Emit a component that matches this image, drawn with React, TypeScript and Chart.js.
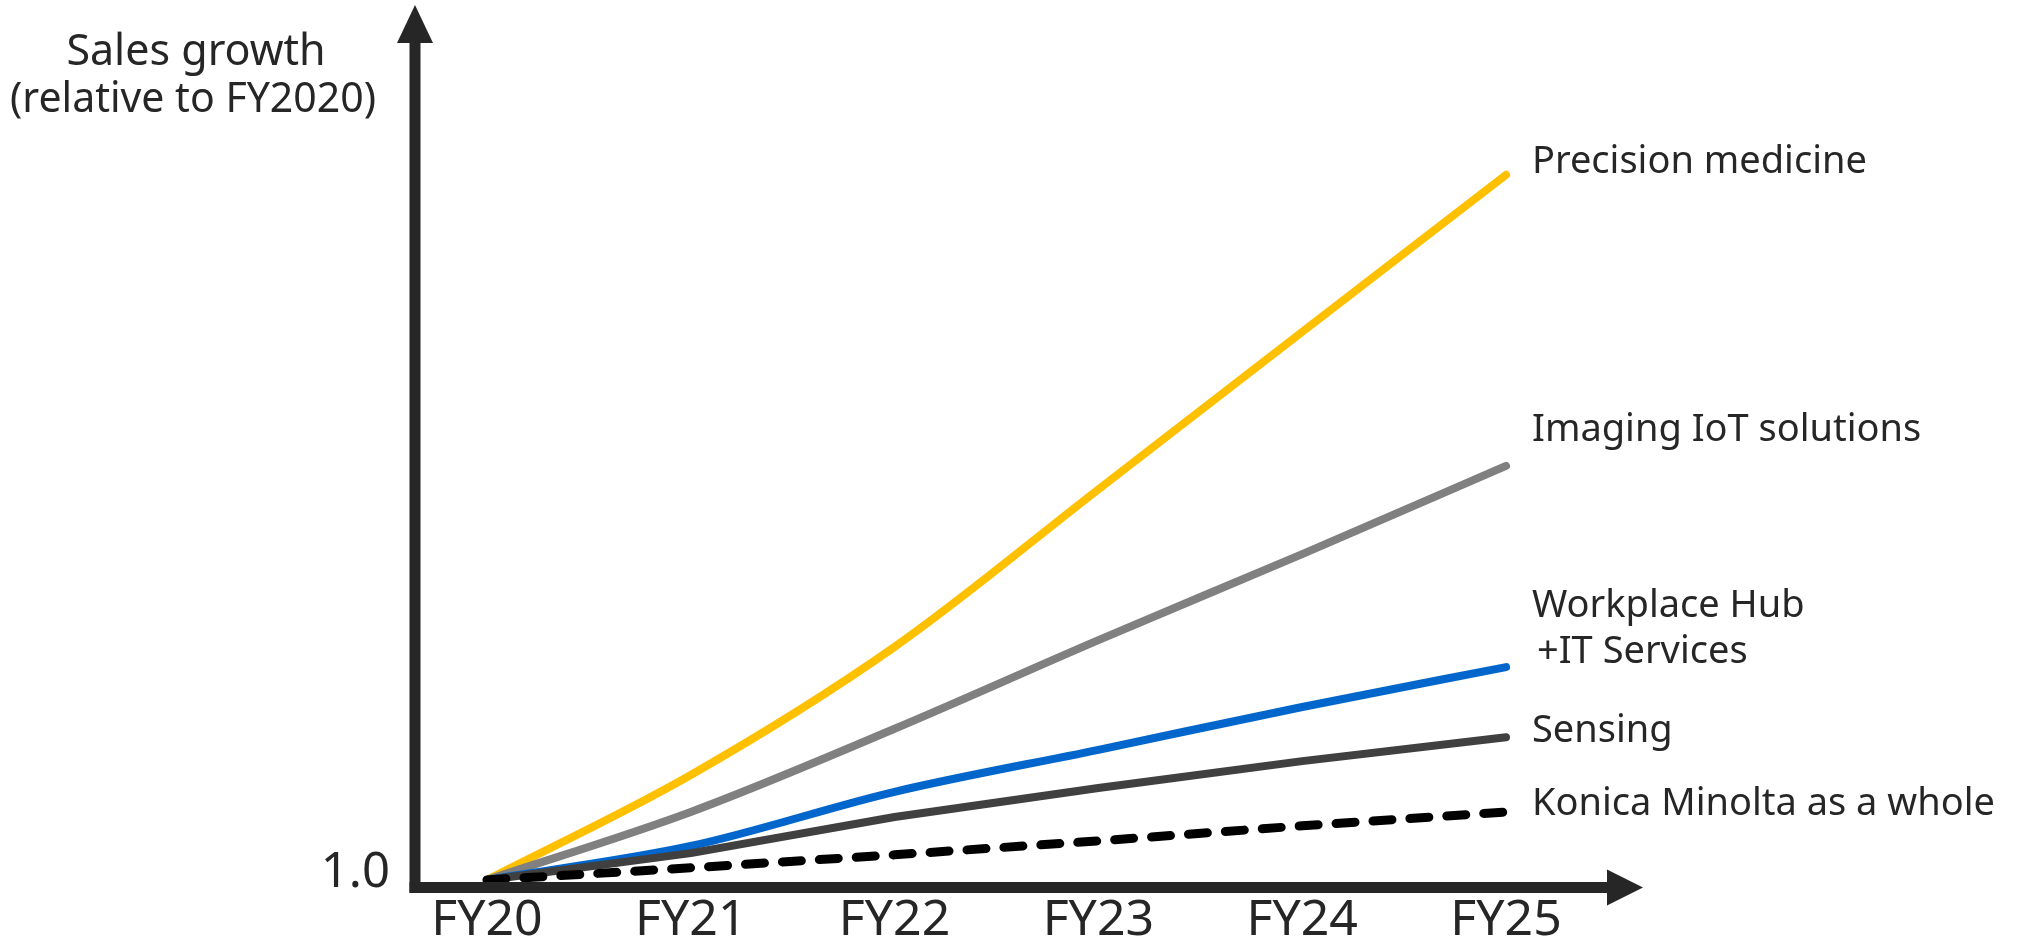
import React, { useEffect, useRef } from 'react';
import { Chart, registerables } from 'chart.js';

Chart.register(...registerables);

// ---- data ----
const categories = ['FY20', 'FY21', 'FY22', 'FY23', 'FY24', 'FY25'];
const precisionMedicine = [1.0, 1.25, 1.555, 1.93, 2.305, 2.679];
const imagingIoT = [1.0, 1.162, 1.36, 1.571, 1.776, 1.986];
const workplaceHubIT = [1.0, 1.081, 1.21, 1.31, 1.412, 1.507];
const sensing = [1.0, 1.064, 1.15, 1.219, 1.283, 1.34];
const konicaWhole = [1.0, 1.029, 1.06, 1.093, 1.129, 1.162];
const seriesLabels = [
  ['Precision medicine'],
  ['Imaging IoT solutions'],
  ['Workplace Hub', '+IT Services'],
  ['Sensing'],
  ['Konica Minolta as a whole'],
];
const yAxisTitle = ['Sales growth', '(relative to FY2020)'];
const yTickValues = [1.0];
const yTickLabels = ['1.0'];

// ---- style ----
const FONT = "'Noto Sans', 'DejaVu Sans', sans-serif";
const TEXT = '#262626';
const AXIS = '#262626';
const colors = ['#FFC000', '#808080', '#0066CC', '#404040', '#000000'];
// label baseline offsets (px) relative to each line's end point, per line of text
const labelOffsets = [[-2], [-25], [-50, -4], [5], [3]];
const labelXShift = [[0], [0], [0, 5], [0], [0]];

export default function App() {
  const ref = useRef<HTMLCanvasElement | null>(null);

  useEffect(() => {
    const canvas = ref.current;
    if (!canvas) return;
    const allSeries = [precisionMedicine, imagingIoT, workplaceHubIT, sensing, konicaWhole];

    const decor = {
      id: 'decor',
      afterDatasetsDraw(chart: any) {
        const { ctx, chartArea, scales } = chart;
        const x0 = chartArea.left;
        const yb = chartArea.bottom + 7.5;
        const right = chartArea.right;
        ctx.save();
        ctx.fillStyle = AXIS;
        // vertical axis + arrow
        ctx.fillRect(x0 - 5.5, 40, 11, yb + 5.5 - 40);
        ctx.beginPath();
        ctx.moveTo(x0, 5);
        ctx.lineTo(x0 - 18, 43);
        ctx.lineTo(x0 + 18, 43);
        ctx.closePath();
        ctx.fill();
        // horizontal axis + arrow
        ctx.fillRect(x0 - 5.5, yb - 5.5, right - 35 - (x0 - 5.5), 11);
        ctx.beginPath();
        ctx.moveTo(right, yb);
        ctx.lineTo(right - 36, yb - 18);
        ctx.lineTo(right - 36, yb + 18);
        ctx.closePath();
        ctx.fill();

        // axis title
        ctx.fillStyle = TEXT;
        ctx.textAlign = 'center';
        ctx.textBaseline = 'alphabetic';
        ctx.font = `43px ${FONT}`;
        ctx.fillText(yAxisTitle[0], 196, 65);
        ctx.font = `41px ${FONT}`;
        ctx.fillText(yAxisTitle[1], 193, 112);

        // series labels
        ctx.textAlign = 'left';
        ctx.font = `38px ${FONT}`;
        const lastIdx = categories.length - 1;
        seriesLabels.forEach((lines, i) => {
          const yEnd = scales.y.getPixelForValue(allSeries[i][lastIdx]);
          lines.forEach((t, j) => {
            ctx.fillText(t, 1532 + labelXShift[i][j], yEnd + labelOffsets[i][j]);
          });
        });
        ctx.restore();
      },
    };

    const mk = (label: string, data: number[], i: number, extra: any = {}) => ({
      label,
      data: data.map((v, k) => ({ x: k, y: v })),
      borderColor: colors[i],
      backgroundColor: colors[i],
      borderWidth: 8,
      borderCapStyle: 'round',
      borderJoinStyle: 'round',
      pointRadius: 0,
      fill: false,
      clip: false,
      ...extra,
    });

    const chart = new Chart(canvas, {
      type: 'line',
      data: {
        datasets: [
          mk(seriesLabels[4].join(' '), konicaWhole, 4, { borderDash: [19, 18], borderWidth: 9, tension: 0 }),
          mk(seriesLabels[3].join(' '), sensing, 3, { tension: 0 }),
          mk(seriesLabels[2].join(' '), workplaceHubIT, 2, { cubicInterpolationMode: 'monotone' }),
          mk(seriesLabels[1].join(' '), imagingIoT, 1, { cubicInterpolationMode: 'monotone' }),
          mk(seriesLabels[0].join(' '), precisionMedicine, 0, { cubicInterpolationMode: 'monotone' }),
        ] as any,
      },
      options: {
        animation: false,
        responsive: false,
        devicePixelRatio: 1,
        layout: { padding: { left: 0, right: 2018 - 1643, top: 40, bottom: 0 } },
        plugins: { legend: { display: false }, tooltip: { enabled: false } },
        events: [],
        scales: {
          x: {
            type: 'linear',
            min: -0.353,
            max: 5.672,
            grid: { display: false, drawTicks: false },
            border: { display: false },
            afterBuildTicks: (scale: any) => {
              scale.ticks = categories.map((_, i) => ({ value: i }));
            },
            afterFit: (scale: any) => {
              scale.height = 944 - 880;
            },
            ticks: {
              autoSkip: false,
              maxRotation: 0,
              padding: 11,
              color: TEXT,
              font: { family: FONT, size: 50 },
              callback: (v: any) => categories[Math.round(Number(v))] ?? '',
            },
          },
          y: {
            type: 'linear',
            min: 1,
            max: 3,
            grid: { display: false, drawTicks: false },
            border: { display: false },
            afterBuildTicks: (scale: any) => {
              scale.ticks = yTickValues.map((v) => ({ value: v }));
            },
            afterFit: (scale: any) => {
              scale.width = 415;
            },
            ticks: {
              padding: 25,
              color: TEXT,
              font: { family: FONT, size: 49, lineHeight: '14px' as any },
              callback: (v: any) => {
                const idx = yTickValues.indexOf(Number(v));
                return idx >= 0 ? [yTickLabels[idx], ''] : '';
              },
            },
          },
        },
      },
      plugins: [decor],
    } as any);

    return () => chart.destroy();
  }, []);

  return (
    <div style={{ position: 'fixed', left: 0, top: 0, width: 2018, height: 944, background: '#fff' }}>
      <canvas ref={ref} width={2018} height={944} style={{ width: 2018, height: 944, display: 'block' }} />
    </div>
  );
}
